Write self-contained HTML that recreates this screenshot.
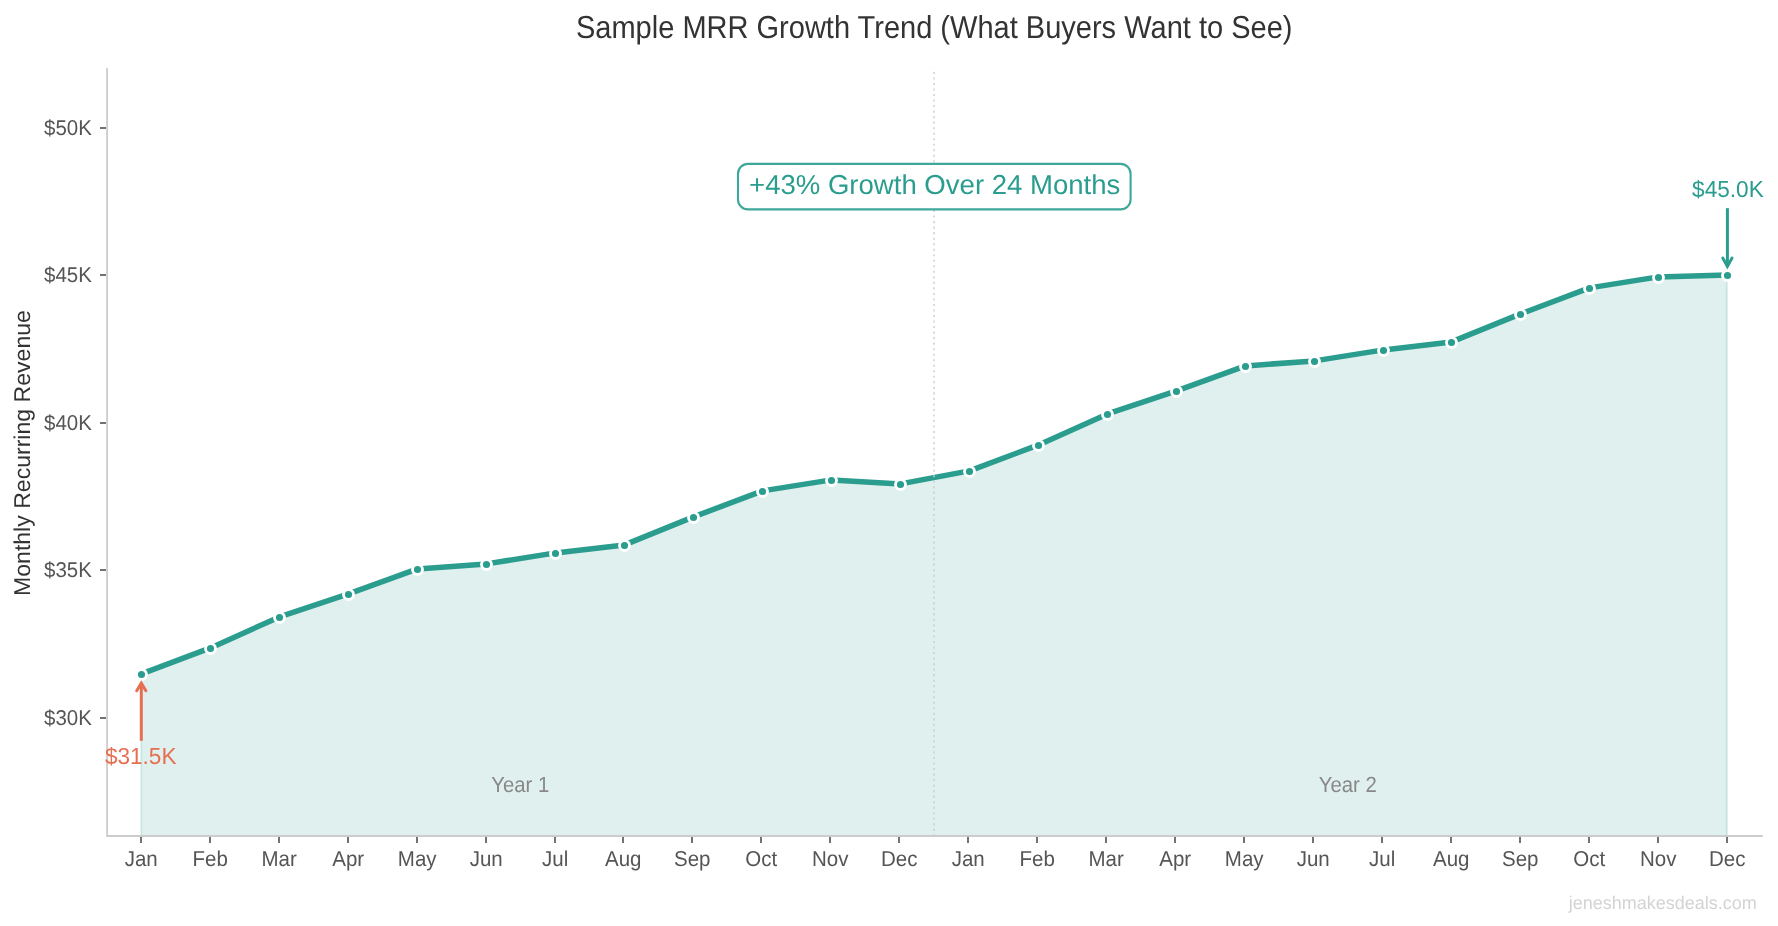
<!DOCTYPE html><html><head><meta charset="utf-8"><style>html,body{margin:0;padding:0;background:#fff;}svg{display:block;will-change:transform;}text{font-family:"Liberation Sans",sans-serif;text-rendering:geometricPrecision;}</style></head><body>
<svg width="1778" height="926" viewBox="0 0 1778 926">
<rect x="0" y="0" width="1778" height="926" fill="#ffffff"/>
<polygon points="141.20,836.0 141.20,673.90 210.50,647.90 279.50,616.90 348.50,593.90 417.50,568.90 486.50,563.90 555.50,552.90 624.50,544.90 693.50,516.90 762.50,490.90 831.50,479.90 900.50,483.90 969.50,470.90 1038.50,444.90 1107.50,413.90 1176.50,390.90 1245.50,365.90 1314.50,360.90 1383.50,349.90 1451.50,341.90 1520.50,313.90 1589.50,287.90 1658.50,276.90 1726.95,274.90 1726.95,836.0" fill="#2a9d8f" fill-opacity="0.15" stroke="#2a9d8f" stroke-opacity="0.15" stroke-width="2.0"/>
<polyline points="107.1,69.0 107.1,836.0 1761.9,836.0" fill="none" stroke="#cccccc" stroke-width="1.8" stroke-linecap="square" stroke-linejoin="miter"/>
<line x1="100.0" y1="718" x2="106.0" y2="718" stroke="#737373" stroke-width="2.0"/>
<text transform="translate(91.90,724.70) scale(1,1.043)" font-size="20.5" fill="#555555" text-anchor="end">$30K</text>
<line x1="100.0" y1="570" x2="106.0" y2="570" stroke="#737373" stroke-width="2.0"/>
<text transform="translate(91.90,577.25) scale(1,1.043)" font-size="20.5" fill="#555555" text-anchor="end">$35K</text>
<line x1="100.0" y1="423" x2="106.0" y2="423" stroke="#737373" stroke-width="2.0"/>
<text transform="translate(91.90,429.80) scale(1,1.043)" font-size="20.5" fill="#555555" text-anchor="end">$40K</text>
<line x1="100.0" y1="275" x2="106.0" y2="275" stroke="#737373" stroke-width="2.0"/>
<text transform="translate(91.90,282.35) scale(1,1.043)" font-size="20.5" fill="#555555" text-anchor="end">$45K</text>
<line x1="100.0" y1="128" x2="106.0" y2="128" stroke="#737373" stroke-width="2.0"/>
<text transform="translate(91.90,134.90) scale(1,1.043)" font-size="20.5" fill="#555555" text-anchor="end">$50K</text>
<line x1="141.00" y1="836.9" x2="141.00" y2="842.9" stroke="#737373" stroke-width="2.0"/>
<text transform="translate(141.20,865.90) scale(1,1.05)" font-size="20.5" fill="#555555" text-anchor="middle">Jan</text>
<line x1="210.00" y1="836.9" x2="210.00" y2="842.9" stroke="#737373" stroke-width="2.0"/>
<text transform="translate(210.20,865.90) scale(1,1.05)" font-size="20.5" fill="#555555" text-anchor="middle">Feb</text>
<line x1="279.00" y1="836.9" x2="279.00" y2="842.9" stroke="#737373" stroke-width="2.0"/>
<text transform="translate(279.20,865.90) scale(1,1.05)" font-size="20.5" fill="#555555" text-anchor="middle">Mar</text>
<line x1="348.00" y1="836.9" x2="348.00" y2="842.9" stroke="#737373" stroke-width="2.0"/>
<text transform="translate(348.20,865.90) scale(1,1.05)" font-size="20.5" fill="#555555" text-anchor="middle">Apr</text>
<line x1="417.00" y1="836.9" x2="417.00" y2="842.9" stroke="#737373" stroke-width="2.0"/>
<text transform="translate(417.20,865.90) scale(1,1.05)" font-size="20.5" fill="#555555" text-anchor="middle">May</text>
<line x1="486.00" y1="836.9" x2="486.00" y2="842.9" stroke="#737373" stroke-width="2.0"/>
<text transform="translate(486.20,865.90) scale(1,1.05)" font-size="20.5" fill="#555555" text-anchor="middle">Jun</text>
<line x1="555.00" y1="836.9" x2="555.00" y2="842.9" stroke="#737373" stroke-width="2.0"/>
<text transform="translate(555.20,865.90) scale(1,1.05)" font-size="20.5" fill="#555555" text-anchor="middle">Jul</text>
<line x1="623.00" y1="836.9" x2="623.00" y2="842.9" stroke="#737373" stroke-width="2.0"/>
<text transform="translate(623.20,865.90) scale(1,1.05)" font-size="20.5" fill="#555555" text-anchor="middle">Aug</text>
<line x1="692.00" y1="836.9" x2="692.00" y2="842.9" stroke="#737373" stroke-width="2.0"/>
<text transform="translate(692.20,865.90) scale(1,1.05)" font-size="20.5" fill="#555555" text-anchor="middle">Sep</text>
<line x1="761.00" y1="836.9" x2="761.00" y2="842.9" stroke="#737373" stroke-width="2.0"/>
<text transform="translate(761.20,865.90) scale(1,1.05)" font-size="20.5" fill="#555555" text-anchor="middle">Oct</text>
<line x1="830.00" y1="836.9" x2="830.00" y2="842.9" stroke="#737373" stroke-width="2.0"/>
<text transform="translate(830.20,865.90) scale(1,1.05)" font-size="20.5" fill="#555555" text-anchor="middle">Nov</text>
<line x1="899.00" y1="836.9" x2="899.00" y2="842.9" stroke="#737373" stroke-width="2.0"/>
<text transform="translate(899.20,865.90) scale(1,1.05)" font-size="20.5" fill="#555555" text-anchor="middle">Dec</text>
<line x1="968.00" y1="836.9" x2="968.00" y2="842.9" stroke="#737373" stroke-width="2.0"/>
<text transform="translate(968.20,865.90) scale(1,1.05)" font-size="20.5" fill="#555555" text-anchor="middle">Jan</text>
<line x1="1037.00" y1="836.9" x2="1037.00" y2="842.9" stroke="#737373" stroke-width="2.0"/>
<text transform="translate(1037.20,865.90) scale(1,1.05)" font-size="20.5" fill="#555555" text-anchor="middle">Feb</text>
<line x1="1106.00" y1="836.9" x2="1106.00" y2="842.9" stroke="#737373" stroke-width="2.0"/>
<text transform="translate(1106.20,865.90) scale(1,1.05)" font-size="20.5" fill="#555555" text-anchor="middle">Mar</text>
<line x1="1175.00" y1="836.9" x2="1175.00" y2="842.9" stroke="#737373" stroke-width="2.0"/>
<text transform="translate(1175.20,865.90) scale(1,1.05)" font-size="20.5" fill="#555555" text-anchor="middle">Apr</text>
<line x1="1244.00" y1="836.9" x2="1244.00" y2="842.9" stroke="#737373" stroke-width="2.0"/>
<text transform="translate(1244.20,865.90) scale(1,1.05)" font-size="20.5" fill="#555555" text-anchor="middle">May</text>
<line x1="1313.00" y1="836.9" x2="1313.00" y2="842.9" stroke="#737373" stroke-width="2.0"/>
<text transform="translate(1313.20,865.90) scale(1,1.05)" font-size="20.5" fill="#555555" text-anchor="middle">Jun</text>
<line x1="1382.00" y1="836.9" x2="1382.00" y2="842.9" stroke="#737373" stroke-width="2.0"/>
<text transform="translate(1382.20,865.90) scale(1,1.05)" font-size="20.5" fill="#555555" text-anchor="middle">Jul</text>
<line x1="1451.00" y1="836.9" x2="1451.00" y2="842.9" stroke="#737373" stroke-width="2.0"/>
<text transform="translate(1451.20,865.90) scale(1,1.05)" font-size="20.5" fill="#555555" text-anchor="middle">Aug</text>
<line x1="1520.00" y1="836.9" x2="1520.00" y2="842.9" stroke="#737373" stroke-width="2.0"/>
<text transform="translate(1520.20,865.90) scale(1,1.05)" font-size="20.5" fill="#555555" text-anchor="middle">Sep</text>
<line x1="1589.00" y1="836.9" x2="1589.00" y2="842.9" stroke="#737373" stroke-width="2.0"/>
<text transform="translate(1589.20,865.90) scale(1,1.05)" font-size="20.5" fill="#555555" text-anchor="middle">Oct</text>
<line x1="1658.00" y1="836.9" x2="1658.00" y2="842.9" stroke="#737373" stroke-width="2.0"/>
<text transform="translate(1658.20,865.90) scale(1,1.05)" font-size="20.5" fill="#555555" text-anchor="middle">Nov</text>
<line x1="1727.00" y1="836.9" x2="1727.00" y2="842.9" stroke="#737373" stroke-width="2.0"/>
<text transform="translate(1727.20,865.90) scale(1,1.05)" font-size="20.5" fill="#555555" text-anchor="middle">Dec</text>
<polyline points="141.50,673.90 210.50,647.90 279.50,616.90 348.50,593.90 417.50,568.90 486.50,563.90 555.50,552.90 624.50,544.90 693.50,516.90 762.50,490.90 831.50,479.90 900.50,483.90 969.50,470.90 1038.50,444.90 1107.50,413.90 1176.50,390.90 1245.50,365.90 1314.50,360.90 1383.50,349.90 1451.50,341.90 1520.50,313.90 1589.50,287.90 1658.50,276.90 1727.50,274.90" fill="none" stroke="#2a9d8f" stroke-width="5.5" stroke-linejoin="round" stroke-linecap="round"/>
<circle cx="141.50" cy="674.50" r="6.425" fill="#fff"/><circle cx="141.50" cy="674.50" r="3.575" fill="#2a9d8f"/>
<circle cx="210.50" cy="648.50" r="6.425" fill="#fff"/><circle cx="210.50" cy="648.50" r="3.575" fill="#2a9d8f"/>
<circle cx="279.50" cy="617.50" r="6.425" fill="#fff"/><circle cx="279.50" cy="617.50" r="3.575" fill="#2a9d8f"/>
<circle cx="348.50" cy="594.50" r="6.425" fill="#fff"/><circle cx="348.50" cy="594.50" r="3.575" fill="#2a9d8f"/>
<circle cx="417.50" cy="569.50" r="6.425" fill="#fff"/><circle cx="417.50" cy="569.50" r="3.575" fill="#2a9d8f"/>
<circle cx="486.50" cy="564.50" r="6.425" fill="#fff"/><circle cx="486.50" cy="564.50" r="3.575" fill="#2a9d8f"/>
<circle cx="555.50" cy="553.50" r="6.425" fill="#fff"/><circle cx="555.50" cy="553.50" r="3.575" fill="#2a9d8f"/>
<circle cx="624.50" cy="545.50" r="6.425" fill="#fff"/><circle cx="624.50" cy="545.50" r="3.575" fill="#2a9d8f"/>
<circle cx="693.50" cy="517.50" r="6.425" fill="#fff"/><circle cx="693.50" cy="517.50" r="3.575" fill="#2a9d8f"/>
<circle cx="762.50" cy="491.50" r="6.425" fill="#fff"/><circle cx="762.50" cy="491.50" r="3.575" fill="#2a9d8f"/>
<circle cx="831.50" cy="480.50" r="6.425" fill="#fff"/><circle cx="831.50" cy="480.50" r="3.575" fill="#2a9d8f"/>
<circle cx="900.50" cy="484.50" r="6.425" fill="#fff"/><circle cx="900.50" cy="484.50" r="3.575" fill="#2a9d8f"/>
<circle cx="969.50" cy="471.50" r="6.425" fill="#fff"/><circle cx="969.50" cy="471.50" r="3.575" fill="#2a9d8f"/>
<circle cx="1038.50" cy="445.50" r="6.425" fill="#fff"/><circle cx="1038.50" cy="445.50" r="3.575" fill="#2a9d8f"/>
<circle cx="1107.50" cy="414.50" r="6.425" fill="#fff"/><circle cx="1107.50" cy="414.50" r="3.575" fill="#2a9d8f"/>
<circle cx="1176.50" cy="391.50" r="6.425" fill="#fff"/><circle cx="1176.50" cy="391.50" r="3.575" fill="#2a9d8f"/>
<circle cx="1245.50" cy="366.50" r="6.425" fill="#fff"/><circle cx="1245.50" cy="366.50" r="3.575" fill="#2a9d8f"/>
<circle cx="1314.50" cy="361.50" r="6.425" fill="#fff"/><circle cx="1314.50" cy="361.50" r="3.575" fill="#2a9d8f"/>
<circle cx="1383.50" cy="350.50" r="6.425" fill="#fff"/><circle cx="1383.50" cy="350.50" r="3.575" fill="#2a9d8f"/>
<circle cx="1451.50" cy="342.50" r="6.425" fill="#fff"/><circle cx="1451.50" cy="342.50" r="3.575" fill="#2a9d8f"/>
<circle cx="1520.50" cy="314.50" r="6.425" fill="#fff"/><circle cx="1520.50" cy="314.50" r="3.575" fill="#2a9d8f"/>
<circle cx="1589.50" cy="288.50" r="6.425" fill="#fff"/><circle cx="1589.50" cy="288.50" r="3.575" fill="#2a9d8f"/>
<circle cx="1658.50" cy="277.50" r="6.425" fill="#fff"/><circle cx="1658.50" cy="277.50" r="3.575" fill="#2a9d8f"/>
<circle cx="1727.50" cy="275.50" r="6.425" fill="#fff"/><circle cx="1727.50" cy="275.50" r="3.575" fill="#2a9d8f"/>
<line x1="934.0" y1="836.4" x2="934.0" y2="68.3" stroke="#cccccc" stroke-opacity="0.7" stroke-width="2.0" stroke-dasharray="2.07 3.455"/>
<text transform="translate(520.26,792.00) scale(1,1.08)" font-size="20.35" fill="#888888" text-anchor="middle">Year 1</text>
<text transform="translate(1347.74,792.00) scale(1,1.08)" font-size="20.35" fill="#888888" text-anchor="middle">Year 2</text>
<rect x="738.0" y="163.9" width="392.5999999999999" height="45.5" rx="10" ry="10" fill="#fff" stroke="#2a9d8f" stroke-opacity="0.9" stroke-width="2.1"/>
<text transform="translate(934.70,193.85) scale(1,0.995)" font-size="27.56" fill="#2a9d8f" text-anchor="middle">+43% Growth Over 24 Months</text>
<line x1="1727.4" y1="208.2" x2="1727.4" y2="266.5" stroke="#2a9d8f" stroke-width="3.0" stroke-linecap="butt"/><path d="M1722.8000000000002,258.1 L1727.4,266.5 L1732.0,258.1" fill="none" stroke="#2a9d8f" stroke-width="3.0" stroke-linecap="round" stroke-linejoin="miter" stroke-miterlimit="10"/>
<text transform="translate(1727.90,196.60) scale(1,1.022)" font-size="22.6" fill="#2a9d8f" text-anchor="middle">$45.0K</text>
<line x1="141.3" y1="740.8" x2="141.3" y2="683.2" stroke="#e76f51" stroke-width="3.0" stroke-linecap="butt"/><path d="M136.70000000000002,690.7 L141.3,683.2 L145.9,690.7" fill="none" stroke="#e76f51" stroke-width="3.0" stroke-linecap="round" stroke-linejoin="miter" stroke-miterlimit="10"/>
<text transform="translate(140.70,764.00) scale(1,1.022)" font-size="22.6" fill="#e76f51" text-anchor="middle">$31.5K</text>
<text transform="translate(934.20,38.00) scale(1,1.094)" font-size="29.02" fill="#333333" text-anchor="middle">Sample MRR Growth Trend (What Buyers Want to See)</text>
<text transform="translate(29.87,453.05) rotate(-90) scale(1,0.99)" font-size="23.07" fill="#333333" text-anchor="middle">Monthly Recurring Revenue</text>
<text transform="translate(1756.80,909.20) scale(1,1.015)" font-size="18" fill="#d3d3d3" text-anchor="end">jeneshmakesdeals.com</text>
</svg></body></html>
